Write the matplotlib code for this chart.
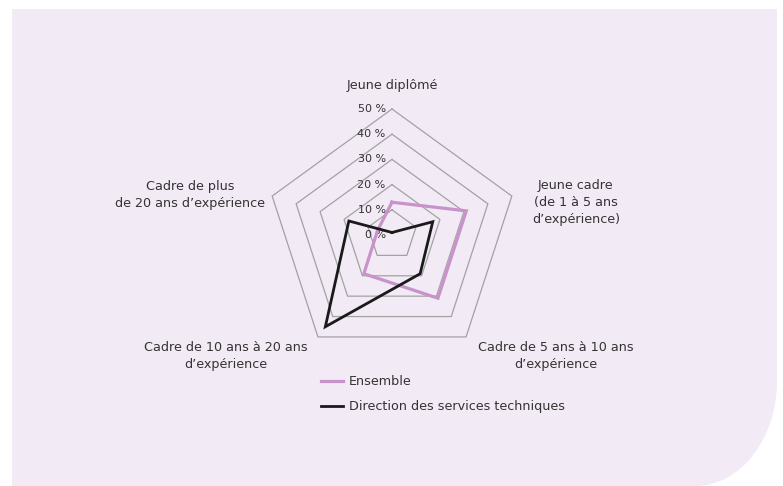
import numpy as np
import matplotlib
matplotlib.use("Agg")
import matplotlib.pyplot as plt
from matplotlib.path import Path
from matplotlib.patches import PathPatch

plt.rcParams['font.family'] = ['DejaVu Sans']

# data (%)
categories = ["Jeune diplômé",
              "Jeune cadre\n(de 1 à 5 ans\nd\u2019expérience)",
              "Cadre de 5 ans à 10 ans\nd\u2019expérience",
              "Cadre de 10 ans à 20 ans\nd\u2019expérience",
              "Cadre de plus\nde 20 ans d\u2019expérience"]
ensemble = [13, 31, 31, 19, 6]
direction = [1, 17, 19, 45, 18]
levels = [0, 10, 20, 30, 40, 50]
level_labels = ["0 %", "10 %", "20 %", "30 %", "40 %", "50 %"]

W, H = 783, 486
fig = plt.figure(figsize=(W / 100, H / 100), dpi=100, facecolor="white")

# lavender panel with rounded bottom-right corner (figure pixels)
bg = fig.add_axes([0, 0, 1, 1])
bg.set_xlim(0, W)
bg.set_ylim(H, 0)
bg.axis("off")
x0, y0, x1, y1 = 12, 9, 777, 486
rx, ry = 82, 105
k = 0.5523
verts = [(x0, y0), (x1, y0), (x1, y1 - ry),
         (x1, y1 - ry + k * ry), (x1 - rx + k * rx, y1), (x1 - rx, y1),
         (x0, y1), (x0, y0)]
codes = [Path.MOVETO, Path.LINETO, Path.LINETO,
         Path.CURVE4, Path.CURVE4, Path.CURVE4,
         Path.LINETO, Path.CLOSEPOLY]
bg.add_patch(PathPatch(Path(verts, codes), facecolor="#f2eaf5", edgecolor="none"))

# radar in % units, 1 % = 2.52 px, centre at (392, 235)
s = 2.52
cx, cy = 392, 235
ax = fig.add_axes([0, 0, 1, 1])
ax.patch.set_visible(False)
ax.set_xlim(-cx / s, (W - cx) / s)
ax.set_ylim((cy - H) / s, cy / s)
ax.axis("off")

n = len(categories)
ang = np.pi / 2 - 2 * np.pi * np.arange(n) / n

def closed(vals):
    v = np.asarray(vals, float)
    x = v * np.cos(ang)
    y = v * np.sin(ang)
    return np.append(x, x[0]), np.append(y, y[0])

for lv in levels[1:]:
    gx, gy = closed([lv] * n)
    ax.plot(gx, gy, color="#a3a3a3", lw=0.9, zorder=1)

for lv, lab in zip(levels, level_labels):
    ax.text(-2.5, lv, lab, ha="right", va="center", fontsize=8, color="#333333")

ex, ey = closed(ensemble)
ax.plot(ex, ey, color="#c893cb", lw=2.3, zorder=3, solid_joinstyle="miter", label="Ensemble")
dx, dy = closed(direction)
ax.plot(dx, dy, color="#1a1a1a", lw=2.0, zorder=4, solid_joinstyle="miter",
        label="Direction des services techniques")

# category labels
label_pos = [(0, 59.5), (73, 13), (65, -48), (-66, -48), (-80, 16)]
for (lx, ly), lab in zip(label_pos, categories):
    ax.text(lx, ly, lab, ha="center", va="center", fontsize=9.2,
            color="#333333", linespacing=1.4)

leg = ax.legend(loc="upper left", bbox_to_anchor=(316 / W, 1 - 370 / H),
                frameon=False, fontsize=9.2, handlelength=1.7,
                handletextpad=0.5, labelspacing=0.95, borderaxespad=0)
for t in leg.get_texts():
    t.set_color("#333333")

fig.savefig("out.png", dpi=100, facecolor="white")
